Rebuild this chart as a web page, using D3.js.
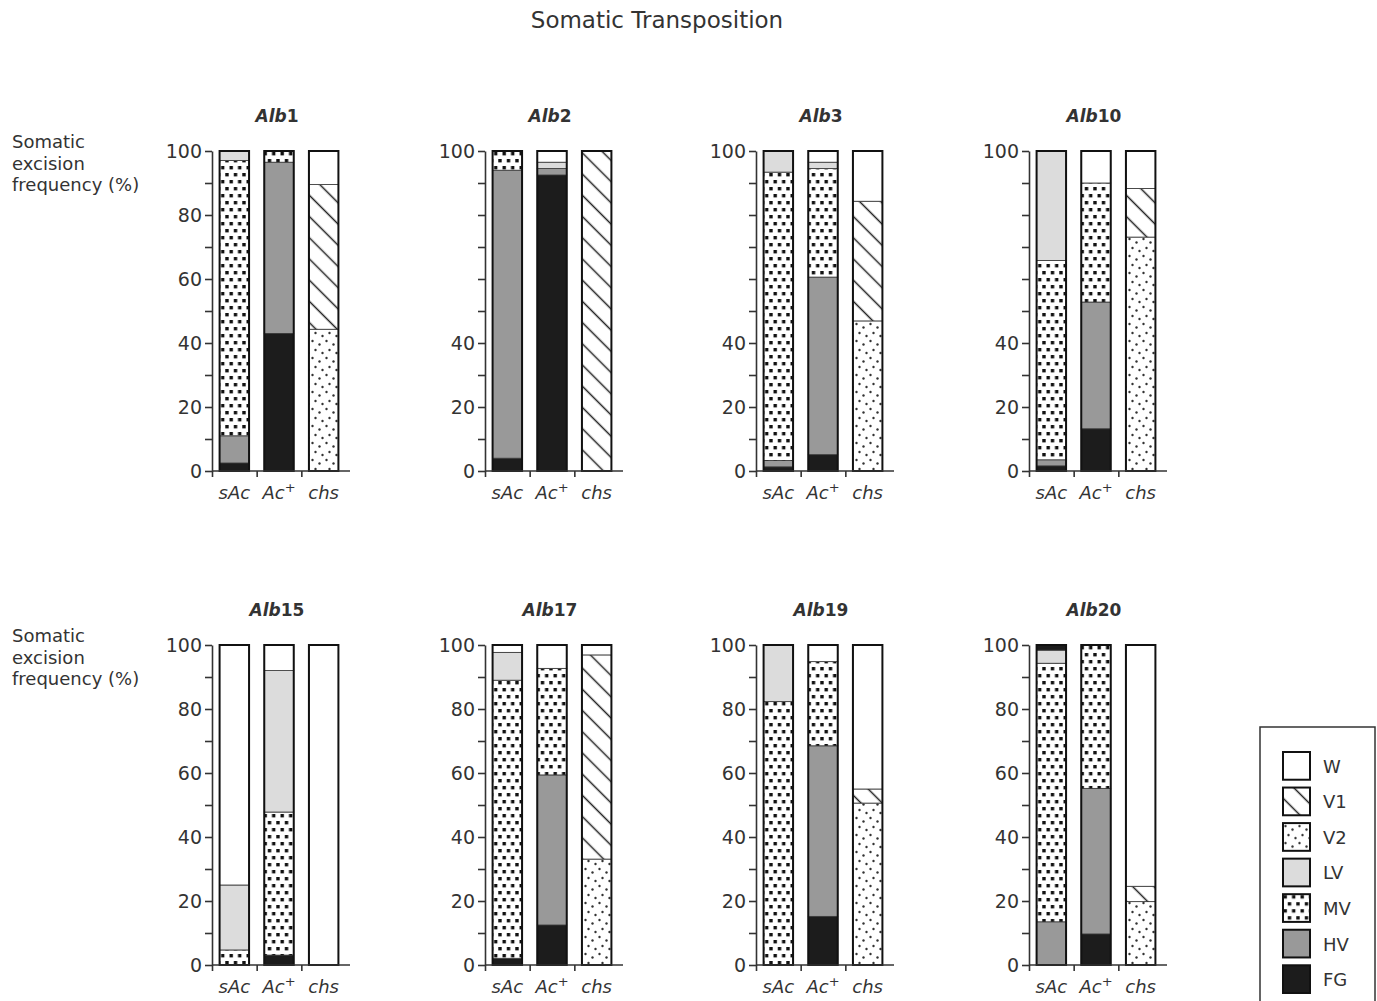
<!DOCTYPE html>
<html>
<head>
<meta charset="utf-8">
<script src="https://cdn.jsdelivr.net/npm/d3@7"></script>
<style>
  body { margin: 0; background: #fff; }
  text { font-family: 'DejaVu Sans', sans-serif; fill: #333; }
</style>
</head>
<body>
<svg id="chart" width="1377" height="1001"></svg>
<script>
// classes, bottom to top
const categories = ['W', 'V1', 'V2', 'LV', 'MV', 'HV', 'FG']
const genotypes = ['sAc', 'Ac+', 'chs']
const panelNames = ['Alb1', 'Alb2', 'Alb3', 'Alb10', 'Alb15', 'Alb17', 'Alb19', 'Alb20']
const yTicks = [0, 10, 20, 30, 40, 50, 60, 70, 80, 90, 100]
const yLabels = [0, 20, 40, 60, 80, 100]
const yLabelsSparse = [0, 20, 40, 100]
const sparsePanels = ['Alb2', 'Alb3', 'Alb10']

// segments of each bar, bottom to top
const alb1 = [
  [['FG', 2.5], ['HV', 8.5], ['MV', 86], ['LV', 3]],
  [['FG', 43], ['HV', 53.5], ['MV', 3.5]],
  [['V2', 44.3], ['V1', 45.2], ['W', 10.5]]
]
const alb2 = [
  [['FG', 4], ['HV', 90], ['MV', 6]],
  [['FG', 92.5], ['HV', 2], ['LV', 2], ['W', 3.5]],
  [['V1', 100]]
]
const alb3 = [
  [['FG', 1.3], ['HV', 2], ['MV', 90.1], ['LV', 6.6]],
  [['FG', 5.1], ['HV', 55.5], ['MV', 33.9], ['LV', 2], ['W', 3.5]],
  [['V2', 46.9], ['V1', 37.4], ['W', 15.7]]
]
const alb10 = [
  [['FG', 1.6], ['HV', 1.9], ['MV', 62.3], ['LV', 34.2]],
  [['FG', 13.2], ['HV', 39.6], ['MV', 37.2], ['W', 10]],
  [['V2', 73.1], ['V1', 15.2], ['W', 11.7]]
]
const alb15 = [
  [['MV', 4.7], ['LV', 20.3], ['W', 75]],
  [['FG', 3.1], ['MV', 44.7], ['LV', 44.2], ['W', 8]],
  [['W', 100]]
]
const alb17 = [
  [['FG', 2.1], ['MV', 86.9], ['LV', 8.7], ['W', 2.3]],
  [['FG', 12.5], ['HV', 46.9], ['MV', 33.3], ['W', 7.3]],
  [['V2', 33.1], ['V1', 63.8], ['W', 3.1]]
]
const alb19 = [
  [['MV', 82.3], ['LV', 17.7]],
  [['FG', 15.2], ['HV', 53.3], ['MV', 26.3], ['W', 5.2]],
  [['V2', 50.6], ['V1', 4.4], ['W', 45]]
]
const alb20 = [
  [['HV', 13.5], ['MV', 80.8], ['LV', 4.1], ['FG', 1.6]],
  [['FG', 9.7], ['HV', 45.5], ['MV', 44.8]],
  [['V2', 19.8], ['V1', 4.8], ['W', 75.4]]
]
const panels = [alb1, alb2, alb3, alb10, alb15, alb17, alb19, alb20]

const colX = [212, 485, 756, 1029]
const rowY = [151, 645]
const plotH = 320

const svg = d3.select('#chart')
const defs = svg.append('defs')

// V1: diagonal hatch
const v1 = defs.append('pattern')
  .attr('id', 'pat-V1')
  .attr('patternUnits', 'userSpaceOnUse')
  .attr('width', 15)
  .attr('height', 15)
  .attr('patternTransform', 'rotate(-45)')
v1.append('rect').attr('width', 15).attr('height', 15).attr('fill', '#fff')
v1.append('line')
  .attr('x1', 7.5).attr('y1', 0).attr('x2', 7.5).attr('y2', 15)
  .attr('stroke', '#222').attr('stroke-width', 1.5)

// V2: sparse fine dots
const v2 = defs.append('pattern')
  .attr('id', 'pat-V2')
  .attr('patternUnits', 'userSpaceOnUse')
  .attr('width', 14)
  .attr('height', 17)
v2.append('rect').attr('width', 14).attr('height', 17).attr('fill', '#fff')
v2.selectAll('circle')
  .data([[2.5, 3], [9.5, 6.5], [5.5, 12], [12.5, 15]])
  .join('circle')
  .attr('cx', d => d[0]).attr('cy', d => d[1]).attr('r', 1.2)
  .attr('fill', '#333')

// MV: staggered black squares
const mv = defs.append('pattern')
  .attr('id', 'pat-MV')
  .attr('patternUnits', 'userSpaceOnUse')
  .attr('width', 8.5)
  .attr('height', 14)
mv.append('rect').attr('width', 8.5).attr('height', 14).attr('fill', '#fff')
mv.selectAll('rect.sq')
  .data([[0.5, 1], [4.8, 8]])
  .join('rect')
  .attr('class', 'sq')
  .attr('x', d => d[0]).attr('y', d => d[1])
  .attr('width', 3.4).attr('height', 3.4)
  .attr('fill', '#111')

const fills = {
  W: '#ffffff',
  V1: 'url(#pat-V1)',
  V2: 'url(#pat-V2)',
  LV: '#dcdcdc',
  MV: 'url(#pat-MV)',
  HV: '#999999',
  FG: '#1c1c1c'
}

// title
svg.append('text')
  .attr('x', 657)
  .attr('y', 28)
  .attr('text-anchor', 'middle')
  .style('font-size', '23px')
  .text('Somatic Transposition')

// y label for each row
rowY.forEach(top => {
  const lab = svg.append('text')
    .attr('x', 12)
    .attr('y', top - 3)
    .style('font-size', '18px')
  ;['Somatic', 'excision', 'frequency (%)'].forEach((t, i) => {
    lab.append('tspan').attr('x', 12).attr('dy', i === 0 ? 0 : 21.5).text(t)
  })
})

const y = d3.scaleLinear().domain([0, 100]).range([plotH, 0])
const x = d3.scaleBand().domain(genotypes).range([0, 134]).paddingInner(0.34).paddingOuter(0.17)
const step = x.step()
const xTick = d3.scaleLinear().domain([0, 1]).range([0, step])

panels.forEach((bars, p) => {
  const name = panelNames[p]
  const g = svg.append('g')
    .attr('transform', `translate(${colX[p % 4]},${rowY[Math.floor(p / 4)]})`)

  // panel title: italic "Alb" + number
  const num = name.replace('Alb', '')
  const title = g.append('text')
    .attr('x', 65)
    .attr('y', -29)
    .attr('text-anchor', 'middle')
    .style('font-size', '17px')
    .style('font-weight', 'bold')
  title.append('tspan').style('font-style', 'italic').text('Alb')
  title.append('tspan').text(num)

  // stacked segments
  bars.forEach((segs, b) => {
    let acc = 0
    const rows = segs.map(s => {
      const r = { cat: s[0], y0: acc, y1: acc + s[1] }
      acc += s[1]
      return r
    })
    const bx = x(genotypes[b])
    g.append('g')
      .selectAll('rect')
      .data(rows)
      .join('rect')
      .attr('x', bx)
      .attr('width', x.bandwidth())
      .attr('y', d => y(d.y1))
      .attr('height', d => y(d.y0) - y(d.y1))
      .attr('fill', d => fills[d.cat])
      .attr('stroke', '#333')
      .attr('stroke-width', 0.8)
    g.append('rect')
      .attr('x', bx)
      .attr('width', x.bandwidth())
      .attr('y', y(acc))
      .attr('height', y(0) - y(acc))
      .attr('fill', 'none')
      .attr('stroke', '#111')
      .attr('stroke-width', 2)
  })

  // y axis
  const shown = sparsePanels.includes(name) ? yLabelsSparse : yLabels
  const yAxis = d3.axisLeft(y)
    .tickValues(yTicks)
    .tickSize(7)
    .tickSizeOuter(0)
    .tickPadding(3)
    .tickFormat(d => (shown.includes(d) ? d : ''))
  const ya = g.append('g').call(yAxis)
  ya.selectAll('path, line').attr('stroke', '#333').attr('stroke-width', 1.6)
  ya.selectAll('text').style('font-size', '19px').attr('fill', '#333')

  // x axis
  const xAxis = d3.axisBottom(xTick)
    .tickValues([0, 1, 2])
    .tickSize(6)
    .tickSizeOuter(0)
    .tickFormat('')
  const xa = g.append('g')
    .attr('transform', `translate(0,${plotH})`)
    .call(xAxis)
  xa.select('.domain').attr('d', `M0,0H${3 * step + 4}`)
  xa.selectAll('path, line').attr('stroke', '#333').attr('stroke-width', 1.6)

  // category labels
  genotypes.forEach(gt => {
    const t = g.append('text')
      .attr('x', x(gt) + x.bandwidth() / 2)
      .attr('y', plotH + 28)
      .attr('text-anchor', 'middle')
      .style('font-size', '18px')
      .style('font-style', 'italic')
    if (gt === 'Ac+') {
      t.append('tspan').text('Ac')
      t.append('tspan').attr('baseline-shift', 'super').style('font-size', '13px').style('font-style', 'normal').text('+')
    } else {
      t.text(gt)
    }
  })
})

// legend
const legend = svg.append('g').attr('transform', 'translate(1260,727)')
legend.append('rect')
  .attr('width', 115)
  .attr('height', 300)
  .attr('fill', '#fff')
  .attr('stroke', '#333')
  .attr('stroke-width', 1.5)
const ly = d3.scaleBand().domain(categories).range([25, 266]).paddingInner(0.22)
const item = legend.selectAll('g.item')
  .data(categories)
  .join('g')
  .attr('class', 'item')
  .attr('transform', d => `translate(23,${ly(d)})`)
item.append('rect')
  .attr('width', 27)
  .attr('height', ly.bandwidth())
  .attr('fill', d => fills[d])
  .attr('stroke', '#111')
  .attr('stroke-width', 2)
item.append('text')
  .attr('x', 40)
  .attr('y', ly.bandwidth() / 2 + 7)
  .style('font-size', '18px')
  .text(d => d)
</script>
